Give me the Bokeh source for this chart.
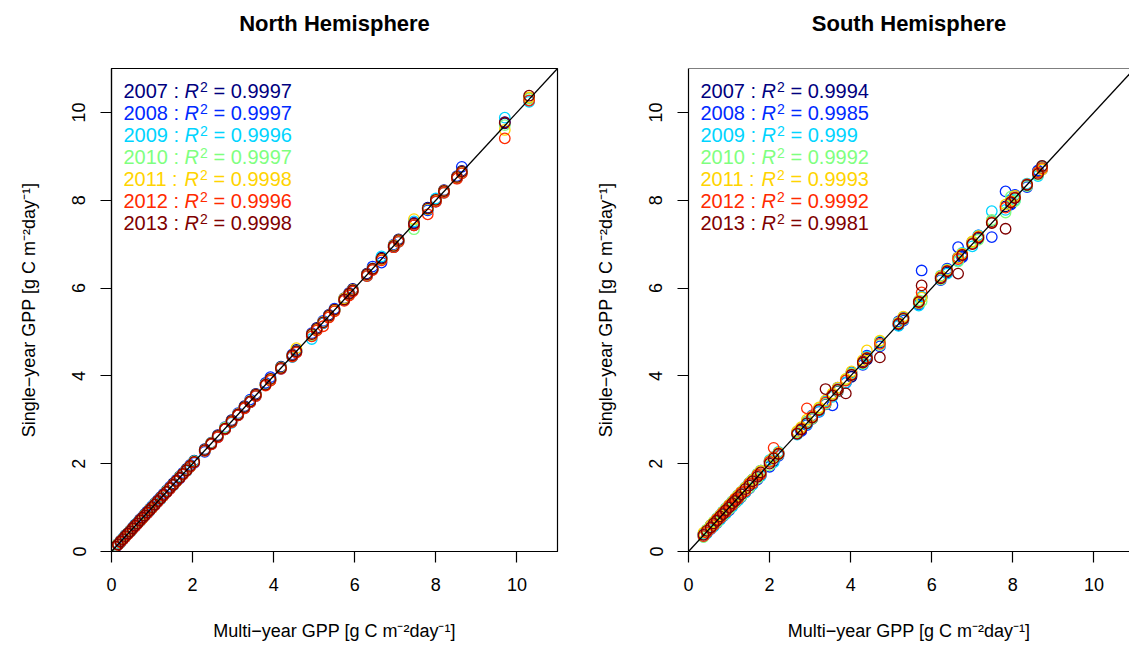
import math
from bokeh.plotting import figure
from bokeh.layouts import row
from bokeh.models import Span, Slope, FixedTicker, Range1d, LinearAxis
from bokeh.core.properties import value
from bokeh.embed import file_html
from bokeh.resources import INLINE

# ---------------- data ----------------
YEARS = ["2007", "2008", "2009", "2010", "2011", "2012", "2013"]
COLORS = ["#00007F", "#002AFF", "#00D4FF", "#7FFF7F", "#FFD400", "#FF2A00", "#7F0000"]
TICKS = [0, 2, 4, 6, 8, 10]
AXIS_MAX = 11

north_r2 = ["0.9997", "0.9997", "0.9996", "0.9997", "0.9998", "0.9996", "0.9998"]
south_r2 = ["0.9994", "0.9985", "0.999", "0.9992", "0.9993", "0.9992", "0.9981"]

north_multi = [0.10, 0.16, 0.22, 0.28, 0.34, 0.40, 0.46, 0.52, 0.58, 0.64,
               0.70, 0.76, 0.82, 0.88, 0.94, 1.00, 1.07, 1.14, 1.21, 1.28,
               1.36, 1.44, 1.52, 1.60, 1.68, 1.76, 1.85, 1.94, 2.04, 2.30,
               2.46, 2.62, 2.80, 2.96, 3.12, 3.28, 3.42, 3.56, 3.80, 3.92,
               4.18, 4.46, 4.56, 4.94, 5.06, 5.22, 5.36, 5.50, 5.74, 5.86,
               5.95, 6.30, 6.44, 6.66, 6.96, 7.08, 7.46, 7.80, 8.00, 8.20,
               8.52, 8.64, 9.70, 10.30]
north_2007 = [0.12, 0.15, 0.24, 0.27, 0.37, 0.39, 0.48, 0.51, 0.61, 0.63,
              0.73, 0.75, 0.85, 0.87, 0.97, 0.99, 1.10, 1.13, 1.24, 1.27,
              1.39, 1.43, 1.55, 1.59, 1.71, 1.75, 1.88, 1.93, 2.07, 2.33,
              2.44, 2.65, 2.78, 2.99, 3.10, 3.31, 3.40, 3.59, 3.83, 3.90,
              4.21, 4.44, 4.59, 4.91, 5.09, 5.20, 5.39, 5.48, 5.77, 5.84,
              5.98, 6.33, 6.42, 6.69, 6.93, 7.11, 7.43, 7.83, 7.97, 8.23,
              8.50, 8.67, 9.75, 10.33]
north_2008 = [0.09, 0.18, 0.21, 0.30, 0.33, 0.42, 0.45, 0.54, 0.57, 0.66,
              0.69, 0.78, 0.81, 0.91, 0.93, 1.03, 1.06, 1.17, 1.20, 1.31,
              1.35, 1.47, 1.51, 1.63, 1.66, 1.79, 1.84, 1.97, 2.02, 2.27,
              2.48, 2.60, 2.83, 2.94, 3.15, 3.26, 3.46, 3.54, 3.84, 3.97,
              4.16, 4.49, 4.54, 4.97, 5.04, 5.25, 5.34, 5.53, 5.72, 5.89,
              5.93, 6.28, 6.49, 6.58, 6.99, 7.06, 7.49, 7.77, 8.03, 8.18,
              8.55, 8.76, 9.78, 10.27]
north_2009 = [0.11, 0.17, 0.20, 0.29, 0.36, 0.41, 0.44, 0.53, 0.60, 0.65,
              0.68, 0.77, 0.84, 0.89, 0.92, 1.02, 1.09, 1.15, 1.19, 1.29,
              1.38, 1.45, 1.50, 1.61, 1.70, 1.77, 1.83, 1.95, 2.06, 2.29,
              2.47, 2.63, 2.81, 2.93, 3.13, 3.29, 3.41, 3.57, 3.79, 3.93,
              4.17, 4.43, 4.57, 4.84, 5.07, 5.21, 5.37, 5.51, 5.73, 5.85,
              5.96, 6.27, 6.45, 6.72, 6.94, 7.05, 7.52, 7.79, 8.04, 8.17,
              8.51, 8.62, 9.88, 10.24]
north_2010 = [0.12, 0.17, 0.23, 0.29, 0.33, 0.41, 0.47, 0.51, 0.59, 0.65,
              0.71, 0.75, 0.83, 0.89, 0.95, 0.99, 1.08, 1.15, 1.22, 1.27,
              1.37, 1.45, 1.53, 1.59, 1.69, 1.77, 1.86, 1.93, 2.05, 2.31,
              2.45, 2.62, 2.82, 2.97, 3.11, 3.27, 3.43, 3.55, 3.81, 3.91,
              4.19, 4.47, 4.55, 4.92, 5.05, 5.23, 5.35, 5.49, 5.75, 5.87,
              5.94, 6.31, 6.43, 6.65, 6.97, 7.09, 7.34, 7.81, 8.01, 8.21,
              8.53, 8.65, 9.71, 10.31]
north_2011 = [0.10, 0.16, 0.22, 0.28, 0.35, 0.40, 0.46, 0.53, 0.58, 0.64,
              0.70, 0.76, 0.82, 0.88, 0.95, 1.00, 1.07, 1.14, 1.21, 1.29,
              1.36, 1.44, 1.52, 1.61, 1.68, 1.76, 1.85, 1.95, 2.04, 2.30,
              2.47, 2.62, 2.80, 2.96, 3.13, 3.28, 3.42, 3.57, 3.80, 3.92,
              4.18, 4.46, 4.63, 4.95, 5.06, 5.22, 5.36, 5.50, 5.76, 5.86,
              5.96, 6.30, 6.44, 6.66, 6.97, 7.08, 7.57, 7.80, 8.00, 8.21,
              8.52, 8.64, 9.60, 10.34]
north_2012 = [0.10, 0.15, 0.21, 0.27, 0.33, 0.39, 0.45, 0.51, 0.57, 0.63,
              0.69, 0.75, 0.81, 0.87, 0.93, 0.99, 1.06, 1.13, 1.20, 1.27,
              1.35, 1.43, 1.51, 1.59, 1.67, 1.75, 1.84, 1.93, 2.03, 2.29,
              2.44, 2.60, 2.78, 2.94, 3.10, 3.26, 3.40, 3.54, 3.78, 3.89,
              4.16, 4.44, 4.53, 4.90, 5.03, 5.13, 5.33, 5.47, 5.71, 5.83,
              5.92, 6.27, 6.41, 6.63, 6.93, 7.05, 7.43, 7.68, 7.97, 8.17,
              8.49, 8.61, 9.41, 10.27]
north_2013 = [0.11, 0.16, 0.23, 0.28, 0.35, 0.41, 0.46, 0.53, 0.59, 0.64,
              0.71, 0.77, 0.82, 0.89, 0.94, 1.01, 1.07, 1.15, 1.21, 1.29,
              1.36, 1.45, 1.52, 1.61, 1.68, 1.77, 1.85, 1.95, 2.04, 2.31,
              2.46, 2.63, 2.80, 2.97, 3.12, 3.29, 3.42, 3.57, 3.80, 3.93,
              4.18, 4.47, 4.56, 4.95, 5.07, 5.22, 5.37, 5.51, 5.74, 5.87,
              5.95, 6.31, 6.44, 6.67, 6.96, 7.09, 7.47, 7.81, 8.01, 8.21,
              8.53, 8.65, 9.77, 10.38]

south_multi = [0.37, 0.45, 0.55, 0.62, 0.70, 0.78, 0.85, 0.92, 1.00, 1.08,
               1.15, 1.22, 1.30, 1.40, 1.50, 1.58, 1.70, 1.78, 2.00, 2.10,
               2.22, 2.68, 2.78, 2.92, 3.05, 3.22, 3.38, 3.55, 3.68, 3.88,
               4.02, 4.30, 4.40, 4.72, 5.18, 5.30, 5.68, 5.75, 6.22, 6.38,
               6.65, 6.75, 7.00, 7.15, 7.48, 7.82, 7.95, 8.05, 8.35, 8.62,
               8.72]
south_2007 = [0.40, 0.42, 0.60, 0.58, 0.75, 0.74, 0.90, 0.87, 1.05, 1.04,
              1.20, 1.17, 1.35, 1.35, 1.56, 1.53, 1.75, 1.73, 2.05, 2.06,
              2.25, 2.70, 2.76, 2.95, 3.02, 3.25, 3.35, 3.58, 3.65, 3.91,
              3.98, 4.33, 4.37, 4.76, 5.15, 5.33, 5.65, 5.80, 6.25, 6.35,
              6.70, 6.72, 7.04, 7.12, 7.52, 7.86, 7.92, 8.10, 8.33, 8.66,
              8.75]
south_2008 = [0.34, 0.49, 0.51, 0.67, 0.65, 0.83, 0.80, 0.98, 0.94, 1.14,
              1.10, 1.28, 1.24, 1.46, 1.44, 1.64, 1.64, 1.84, 1.93, 2.15,
              2.18, 2.72, 2.74, 2.88, 3.10, 3.18, 3.42, 3.33, 3.73, 3.84,
              4.08, 4.25, 4.46, 4.67, 5.24, 5.26, 5.62, 6.40, 6.18, 6.44,
              6.93, 6.70, 7.05, 7.20, 7.16, 8.20, 7.90, 8.12, 8.30, 8.68,
              8.70]
south_2009 = [0.41, 0.41, 0.60, 0.57, 0.76, 0.72, 0.91, 0.86, 1.06, 1.02,
              1.21, 1.16, 1.36, 1.34, 1.57, 1.52, 1.77, 1.72, 2.08, 2.03,
              2.27, 2.66, 2.82, 2.90, 3.08, 3.19, 3.41, 3.52, 3.72, 3.85,
              4.06, 4.27, 4.44, 4.78, 5.14, 5.34, 5.60, 5.80, 6.28, 6.33,
              6.62, 6.80, 6.95, 7.20, 7.75, 7.78, 8.02, 8.00, 8.38, 8.55,
              8.78]
south_2010 = [0.33, 0.50, 0.52, 0.68, 0.66, 0.83, 0.81, 0.98, 0.96, 1.14,
              1.11, 1.28, 1.25, 1.46, 1.45, 1.64, 1.66, 1.84, 1.96, 2.15,
              2.20, 2.71, 2.80, 2.95, 3.03, 3.26, 3.36, 3.58, 3.66, 3.92,
              4.05, 4.28, 4.42, 4.70, 5.22, 5.28, 5.72, 5.70, 6.20, 6.42,
              6.60, 6.78, 7.04, 7.10, 7.55, 7.72, 8.08, 7.98, 8.32, 8.58,
              8.74]
south_2011 = [0.43, 0.48, 0.60, 0.66, 0.75, 0.82, 0.90, 0.96, 1.06, 1.12,
              1.21, 1.27, 1.36, 1.45, 1.56, 1.63, 1.76, 1.83, 2.06, 2.14,
              2.25, 2.74, 2.83, 3.00, 3.08, 3.28, 3.44, 3.60, 3.73, 3.93,
              4.10, 4.36, 4.58, 4.80, 5.20, 5.35, 5.66, 5.78, 6.27, 6.40,
              6.69, 6.78, 7.06, 7.18, 7.50, 7.90, 7.98, 8.10, 8.36, 8.64,
              8.70]
south_2012 = [0.35, 0.43, 0.53, 0.60, 0.73, 0.76, 0.88, 0.90, 1.04, 1.06,
              1.19, 1.20, 1.34, 1.37, 1.54, 1.55, 1.74, 1.76, 2.04, 2.36,
              2.23, 2.69, 2.79, 3.26, 3.06, 3.23, 3.39, 3.56, 3.69, 3.89,
              4.03, 4.31, 4.41, 4.73, 5.19, 5.31, 5.69, 5.90, 6.23, 6.39,
              6.66, 6.76, 7.01, 7.16, 7.49, 7.83, 7.96, 8.06, 8.36, 8.63,
              8.73]
south_2013 = [0.38, 0.47, 0.55, 0.64, 0.70, 0.80, 0.85, 0.94, 1.00, 1.10,
              1.15, 1.24, 1.30, 1.42, 1.50, 1.60, 1.70, 1.80, 2.00, 2.12,
              2.22, 2.68, 2.78, 2.92, 3.05, 3.22, 3.70, 3.55, 3.68, 3.60,
              4.02, 4.30, 4.40, 4.42, 5.18, 5.30, 5.68, 6.06, 6.22, 6.38,
              6.33, 6.75, 7.00, 7.15, 7.48, 7.35, 7.95, 8.05, 8.35, 8.60,
              8.78]

north_single = [north_2007, north_2008, north_2009, north_2010, north_2011, north_2012, north_2013]
south_single = [south_2007, south_2008, south_2009, south_2010, south_2011, south_2012, south_2013]

# ---------------- layout ----------------
FONT = "Liberation Sans"
FRAME_H = 483
FULL_W = 446
TOP = 68
PPX = FULL_W / AXIS_MAX
PPY = FRAME_H / AXIS_MAX
X_LABEL = "Multi\u2212year GPP [g C m\u207b\u00b2day\u207b\u00b9]"
Y_LABEL = "Single\u2212year GPP [g C m\u207b\u00b2day\u207b\u00b9]"


def style_axis(ax, label, label_standoff):
    ax.ticker = FixedTicker(ticks=TICKS)
    ax.minor_tick_line_color = None
    ax.major_tick_in = 0
    ax.major_tick_out = 11
    ax.major_tick_line_width = 1.2
    ax.major_tick_line_color = "black"
    ax.axis_line_width = 1.2
    ax.axis_line_color = "black"
    ax.major_label_text_font = FONT
    ax.major_label_text_font_size = "18px"
    ax.major_label_text_color = "black"
    ax.major_label_standoff = 15
    ax.axis_label = label
    ax.axis_label_text_font = FONT
    ax.axis_label_text_font_size = "18px"
    ax.axis_label_text_font_style = "normal"
    ax.axis_label_text_color = "black"
    ax.axis_label_standoff = label_standoff


def make_panel(title, multi, singles, r2, frame_w, border_left, border_right, full_box):
    x_end = frame_w / PPX
    p = figure(frame_width=frame_w, frame_height=FRAME_H,
               min_border_left=border_left, min_border_right=border_right,
               min_border_top=TOP, min_border_bottom=97,
               x_range=Range1d(0, x_end), y_range=Range1d(0, AXIS_MAX),
               output_backend="svg", toolbar_location=None)
    p.xgrid.visible = False
    p.ygrid.visible = False
    p.background_fill_color = "white"
    p.border_fill_color = "white"
    if full_box:
        p.outline_line_color = "black"
        p.outline_line_width = 1.2
        p.outline_line_alpha = 1.0
    else:
        p.outline_line_color = None
        p.add_layout(Span(location=AXIS_MAX, dimension="width",
                          line_color="black", line_width=1.2))

    xax = p.below[0]
    yax = p.left[0]
    style_axis(xax, X_LABEL, 27)
    style_axis(yax, Y_LABEL, 31)
    yax.major_label_orientation = "vertical"

    # panel title: label of a bare axis above the frame, centred on 0..11
    tax = LinearAxis(ticker=FixedTicker(ticks=[]), bounds=(0, AXIS_MAX),
                     axis_line_color=None, major_tick_line_color=None,
                     minor_tick_line_color=None, major_tick_out=0, major_tick_in=0,
                     major_label_text_font_size="0px", axis_label=title,
                     axis_label_text_font=FONT, axis_label_text_font_size="22px",
                     axis_label_text_font_style="bold", axis_label_text_color="black",
                     axis_label_standoff=33)
    p.add_layout(tax, "above")

    for ys, col in zip(singles, COLORS):
        p.scatter(multi, ys, marker="circle", size=10.5, fill_color=None,
                  line_color=col, line_width=1.3)

    p.add_layout(Slope(gradient=1, y_intercept=0, line_color="black", line_width=1.3))

    x0 = 12
    for i, (yr, val, col) in enumerate(zip(YEARS, r2, COLORS)):
        yc = AXIS_MAX - (22.5 + 22 * i) / PPY
        common = dict(text_font=value(FONT), text_color=col,
                      text_baseline="middle", text_align="left")
        p.text(x=[x0 / PPX], y=[yc], text=[f"{yr} :"], text_font_size="20px", **common)
        p.text(x=[(x0 + 61) / PPX], y=[yc], text=["R"], text_font_size="20px",
               text_font_style="italic", **common)
        p.text(x=[(x0 + 76.5) / PPX], y=[yc + 4.5 / PPY], text=["2"],
               text_font_size="14px", **common)
        p.text(x=[(x0 + 90) / PPX], y=[yc], text=[f"= {val}"],
               text_font_size="20px", **common)
    return p


p1 = make_panel("North Hemisphere", north_multi, north_single, north_r2,
                FULL_W, 111, 29, True)
p2 = make_panel("South Hemisphere", south_multi, south_single, south_r2,
                1129 - 688, 102, 0, False)

layout = row(p1, p2)
open("out.html", "w").write(file_html(layout, INLINE))
